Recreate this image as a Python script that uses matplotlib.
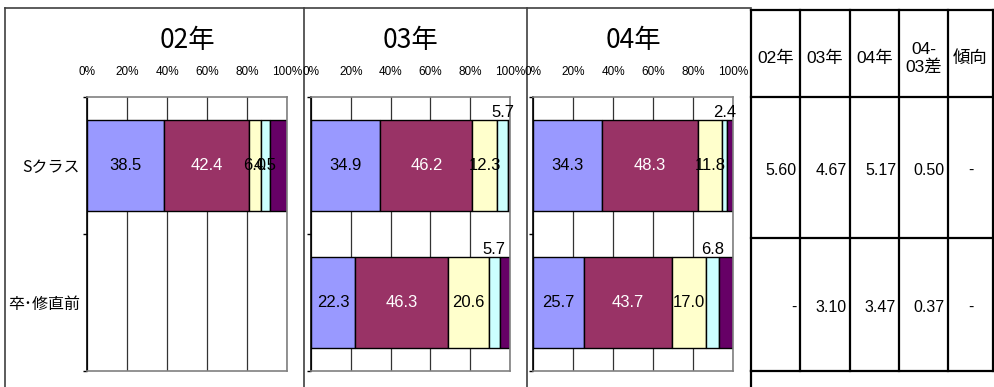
import matplotlib
matplotlib.use('Agg')
import matplotlib.pyplot as plt
from matplotlib.ticker import FixedLocator

W, H = 994, 387

# ---- data ----
years = ['02年', '03年', '04年']
groups = ['Sクラス', '卒･修直前']

# segment shares (%) per group, None = no bar that year
seg_02 = [[38.5, 42.4, 6.0, 4.5, 8.6], None]
seg_03 = [[34.9, 46.2, 12.3, 5.7, 0.9], [22.3, 46.3, 20.6, 5.7, 5.1]]
seg_04 = [[34.3, 48.3, 11.8, 2.4, 3.2], [25.7, 43.7, 17.0, 6.8, 6.8]]
year_segs = [seg_02, seg_03, seg_04]
cyan_above = [False, True, True]

seg_colors = ['#9999FF', '#993366', '#FFFFCC', '#CCFFFF', '#660066']
label_colors = ['black', 'white', 'black', 'black']

# table on the right
tbl_header = ['02年', '03年', '04年', '04-\n03差', '傾向']
avg_02 = [5.60, None]
avg_03 = [4.67, 3.10]
avg_04 = [5.17, 3.47]
diff_04_03 = [0.50, 0.37]
trend = ['-', '-']

NARROW = ['Liberation Sans Narrow', 'Liberation Sans', 'DejaVu Sans']
SANS_JP = ['Liberation Sans', 'Noto Sans CJK JP']
plt.rcParams['font.family'] = ['Noto Sans CJK JP', 'DejaVu Sans']

fig = plt.figure(figsize=(W / 100, H / 100), dpi=100)

# background layer in pixel coordinates for frame + table
bg = fig.add_axes([0, 0, 1, 1])
bg.set_xlim(0, W)
bg.set_ylim(H, 0)
bg.axis('off')

frame_c = '#404040'
bg.plot([5, 751], [8, 8], color=frame_c, lw=1.2)
for xv in [5, 304, 527]:
    bg.plot([xv, xv], [8, H], color=frame_c, lw=1.2)

# table grid
col_edges = [751, 800, 850, 899, 948, 993]
row_edges = [10, 97, 238, 371]
for xv in col_edges:
    bg.plot([xv, xv], [row_edges[0], row_edges[-1]], color='black', lw=1.6)
bg.plot([751, 751], [row_edges[-1], H], color='black', lw=1.6)
for yv in row_edges:
    bg.plot([col_edges[0], col_edges[-1]], [yv, yv], color='black', lw=1.6)

for c, txt in enumerate(tbl_header):
    cx = (col_edges[c] + col_edges[c + 1]) / 2
    cy = (row_edges[0] + row_edges[1]) / 2 + 5
    bg.text(cx, cy, txt, ha='center', va='center', fontsize=12.5,
            family=SANS_JP, linespacing=1.15)

cols = [avg_02, avg_03, avg_04, diff_04_03]
for r in range(2):
    cy = (row_edges[r + 1] + row_edges[r + 2]) / 2 + 3
    for c, col in enumerate(cols):
        v = col[r]
        txt = '-' if v is None else f'{v:.2f}'
        bg.text(col_edges[c + 1] - 3, cy, txt, ha='right', va='center',
                fontsize=11.5, family=SANS_JP)
    bg.text((col_edges[4] + col_edges[5]) / 2, cy, trend[r], ha='center',
            va='center', fontsize=11.5, family=SANS_JP)

# ---- bar panels ----
panel_x = [(87, 287), (311, 510), (533, 733)]
top_px, bot_px = 97, 371
bar_h = 0.67

for i, (year, segs) in enumerate(zip(years, year_segs)):
    x0, x1 = panel_x[i]
    ax = fig.add_axes([x0 / W, 1 - bot_px / H, (x1 - x0) / W, (bot_px - top_px) / H])
    ax.set_xlim(0, 100)
    ax.set_ylim(2, 0)

    for g, vals in enumerate(segs):
        if vals is None:
            continue
        yc = g + 0.5
        left = 0
        for k, v in enumerate(vals):
            ax.barh(yc, v, left=left, height=bar_h, color=seg_colors[k],
                    edgecolor='black', linewidth=1, zorder=2)
            mid = left + v / 2
            if k < 3 or (k == 3 and not cyan_above[i]):
                ax.text(mid, yc, f'{v:.1f}', ha='center', va='center',
                        fontsize=12, color=label_colors[k], family=NARROW,
                        zorder=3)
            elif k == 3:
                ax.text(mid, yc - bar_h / 2, f'{v:.1f}', ha='center',
                        va='bottom', fontsize=12, color='black',
                        family=NARROW, zorder=3, clip_on=False)
            left += v

    ax.set_xticks(range(0, 101, 20))
    ax.set_xticklabels([f'{t}%' for t in range(0, 101, 20)], family=NARROW)
    ax.xaxis.tick_top()
    ax.tick_params(axis='x', length=0, pad=14, labelsize=8.5)
    ax.grid(axis='x', color='#333333', lw=0.9)
    ax.set_axisbelow(True)

    ax.yaxis.set_major_locator(FixedLocator([0, 1, 2]))
    ax.set_yticklabels(['', '', ''])
    ax.yaxis.set_minor_locator(FixedLocator([0.5, 1.5]))
    if i == 0:
        ax.set_yticklabels(groups, minor=True, fontsize=11.5)
    ax.tick_params(axis='y', which='major', length=3, width=1, direction='out')
    ax.tick_params(axis='y', which='minor', length=0, pad=5)

    for side in ['top', 'right', 'bottom']:
        ax.spines[side].set_color('#808080')
        ax.spines[side].set_linewidth(1.2)
    ax.spines['left'].set_color('black')
    ax.spines['left'].set_linewidth(1.2)

    ax.text(0.5, 1 + 56 / (bot_px - top_px), year, transform=ax.transAxes,
            ha='center', va='center', fontsize=19)

fig.savefig('out.png', dpi=100)
